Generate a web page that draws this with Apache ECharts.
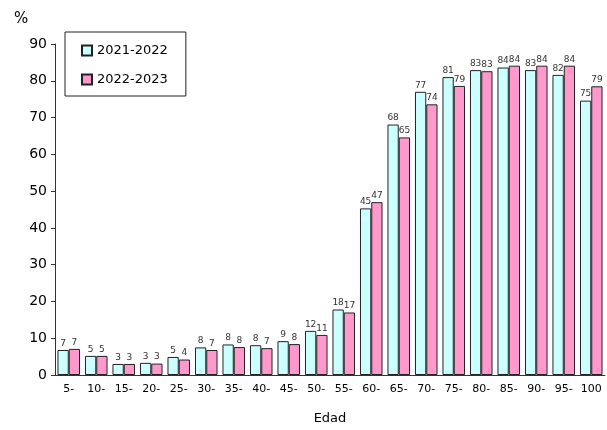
<!DOCTYPE html>
<html>
<head>
    <meta charset="utf-8" />
    <title>Edad</title>
    <script type="text/javascript" src="https://cdn.jsdelivr.net/npm/echarts@6/dist/echarts.min.js"></script>
    <style>
        html, body { margin: 0; padding: 0; background: #fff; }
    </style>
</head>
<body>
<div id="main" style="width: 607px;height:430px;"></div>
<script type="text/javascript">
    // datos
    var edades = ['5-','10-','15-','20-','25-','30-','35-','40-','45-','50-','55-','60-','65-','70-','75-','80-','85-','90-','95-','100'];
    var serie2122 = [6.8,5.2,3.0,3.3,4.9,7.5,8.3,8.1,9.2,12.0,17.8,45.3,68.1,77.0,81.0,82.9,83.6,82.9,81.6,74.6];
    var serie2223 = [7.1,5.2,3.0,3.1,4.2,6.8,7.6,7.3,8.4,10.9,17.0,47.0,64.6,73.6,78.6,82.6,84.1,84.1,84.1,78.5];
    var nombres = ['2021-2022', '2022-2023'];
    var yTicks = [0,10,20,30,40,50,60,70,80,90];

    var fuente = 'DejaVu Sans';
    var myChart = echarts.init(document.getElementById('main'));

    function barra(nombre, datos, color) {
        return {
            name: nombre,
            type: 'bar',
            data: datos,
            barGap: 0,
            barCategoryGap: '18%',
            itemStyle: { color: color, borderColor: '#222', borderWidth: 1 },
            label: {
                show: true,
                position: 'top',
                distance: 2,
                fontSize: 9,
                fontFamily: fuente,
                color: '#333',
                formatter: function (p) { return Math.round(p.value); }
            }
        };
    }

    var option = {
        animation: false,
        textStyle: { fontFamily: fuente },
        grid: { left: 55, right: 2, top: 44, bottom: 53 },
        legend: {
            orient: 'vertical',
            left: 65,
            top: 32,
            padding: [12, 18, 10, 16],
            itemGap: 16,
            itemWidth: 10,
            itemHeight: 10,
            icon: 'rect',
            borderColor: '#222',
            borderWidth: 1,
            textStyle: { fontSize: 13, color: '#000', fontFamily: fuente },
            data: nombres
        },
        graphic: [{
            type: 'text',
            left: 14,
            top: 12,
            style: { text: '%', fontSize: 15, fill: '#000', fontFamily: fuente }
        }],
        xAxis: {
            type: 'category',
            data: edades,
            name: 'Edad',
            nameLocation: 'middle',
            nameGap: 37,
            nameTextStyle: { fontSize: 13, color: '#000' },
            axisLine: { lineStyle: { color: '#333' } },
            axisTick: { length: 4, lineStyle: { color: '#333' } },
            axisLabel: { color: '#000', fontSize: 11, margin: 9, interval: 0 }
        },
        yAxis: {
            type: 'value',
            min: yTicks[0],
            max: yTicks[yTicks.length - 1],
            interval: 10,
            splitLine: { show: false },
            axisLine: { show: true, lineStyle: { color: '#333' } },
            axisTick: { show: true, length: 4, lineStyle: { color: '#333' } },
            axisLabel: { color: '#000', fontSize: 14, margin: 8 }
        },
        series: [
            barra(nombres[0], serie2122, '#CCFFFF'),
            barra(nombres[1], serie2223, '#FF99CC')
        ]
    };
    myChart.setOption(option);
</script>
</body>
</html>
